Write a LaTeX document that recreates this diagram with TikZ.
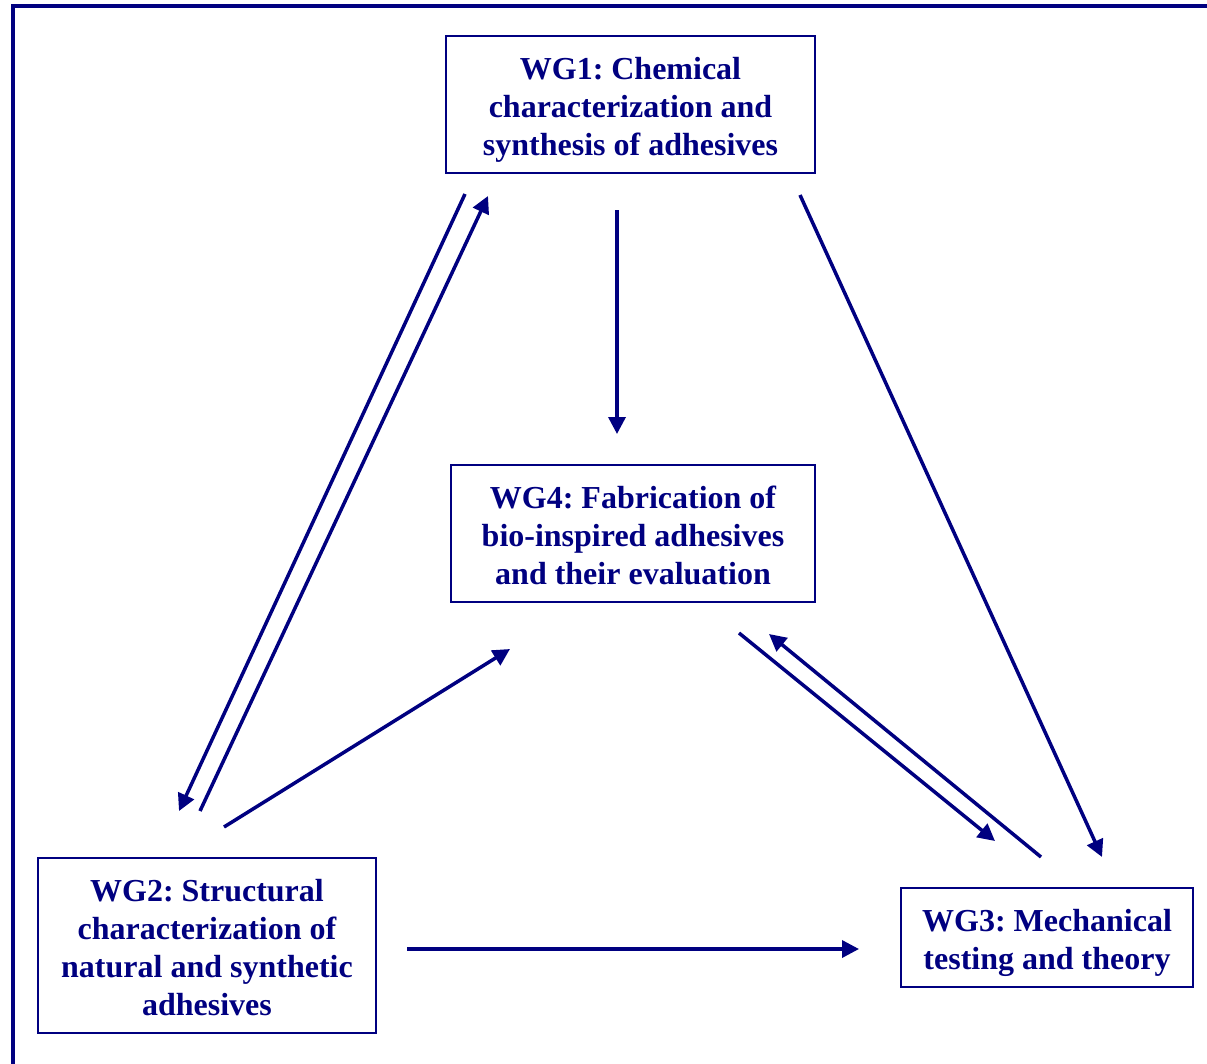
\documentclass[tikz,border=0pt]{standalone}
\usepackage{xcolor}
\usepackage{fontspec}
\setmainfont{Liberation Serif}
\usepackage{tikz}
\usetikzlibrary{calc, arrows.meta}
\definecolor{wgnavy}{RGB}{0,0,128}
\tikzstyle{wgbox}  = [rectangle, draw=wgnavy, line width=2pt, text=wgnavy, align=center, inner sep=0pt, font=\fontsize{32}{38}\selectfont\bfseries\frenchspacing]
\tikzstyle{arrow}  = [draw=wgnavy, line width=3.5pt, -{Triangle[length=17pt, width=17pt]}]
\tikzstyle{frame}  = [draw=wgnavy, line width=4pt]

\begin{document}
\begin{tikzpicture}[x=1pt, y=-1pt]
    \useasboundingbox (0,0) rectangle (1207,1063);
    \draw [frame] (13,6) rectangle (1400,1300);

    \node (wg1) [wgbox, minimum width=369pt, minimum height=137pt] at (630.5,104.5) {\rule{0pt}{32pt}WG1: Chemical\\characterization and\\synthesis of adhesives};
    \node (wg4) [wgbox, minimum width=364pt, minimum height=137pt] at (633,533.5) {\rule{0pt}{26pt}WG4: Fabrication of\\bio-inspired adhesives\\and their evaluation};
    \node (wg2) [wgbox, minimum width=338pt, minimum height=175pt] at (207,945.5) {\rule{0pt}{26pt}WG2: Structural\\characterization of\\natural and synthetic\\adhesives};
    \node (wg3) [wgbox, minimum width=292pt, minimum height=99pt] at (1047,937.5) {\rule{0pt}{33pt}WG3: Mechanical\\testing and theory};

    % WG1 <-> WG2
    \draw [arrow] ([shift={(20,20)}]wg1.south west) -- ([shift={(142,-46)}]wg2.north west);
    \draw [arrow] ([shift={(163,-46)}]wg2.north west) -- ([shift={(43,22)}]wg1.south west);
    % WG1 -> WG4, WG1 -> WG3
    \draw [arrow] ([shift={(-13.5,36)}]wg1.south) -- ([shift={(-16,-30)}]wg4.north);
    \draw [arrow] ([shift={(-16,21)}]wg1.south east) -- ([shift={(55,-30)}]wg3.north);
    % WG2 -> WG4, WG2 -> WG3
    \draw [arrow] ([shift={(187,-30)}]wg2.north west) -- ([shift={(60,46)}]wg4.south west);
    \draw [arrow] ([shift={(30,3.5)}]wg2.east) -- ([shift={(-41,11.5)}]wg3.west);
    % WG4 <-> WG3
    \draw [arrow] ([shift={(106,30)}]wg4.south) -- ([shift={(-52,-46)}]wg3.north);
    \draw [arrow] ([shift={(-6,-30)}]wg3.north) -- ([shift={(136,31)}]wg4.south);

  \end{tikzpicture}
\end{document}
